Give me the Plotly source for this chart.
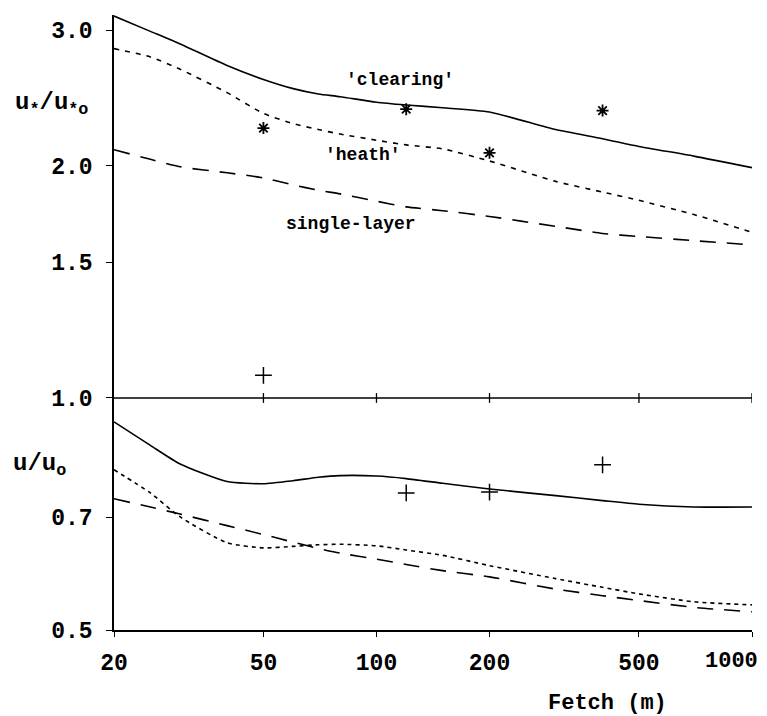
import math
import plotly.graph_objects as go

# ---- data ----
fetch = [20, 25, 30, 40, 50, 60, 70, 80, 100, 120, 150, 200, 300, 400, 500, 700, 1000]

ustar_clearing = [3.13, 2.99, 2.88, 2.70, 2.59, 2.52, 2.48, 2.46, 2.42, 2.40, 2.38,
                  2.35, 2.23, 2.17, 2.12, 2.06, 1.99]
ustar_heath = [2.84, 2.77, 2.67, 2.49, 2.34, 2.27, 2.23, 2.20, 2.16, 2.13, 2.105,
               2.03, 1.91, 1.85, 1.805, 1.73, 1.64]
ustar_single = [2.10, 2.04, 1.995, 1.96, 1.93, 1.89, 1.86, 1.84, 1.80, 1.77, 1.75,
                1.72, 1.67, 1.635, 1.62, 1.60, 1.58]

u_clearing = [0.931, 0.868, 0.821, 0.779, 0.774, 0.781, 0.789, 0.793, 0.792, 0.786,
              0.775, 0.762, 0.747, 0.736, 0.728, 0.722, 0.722]
u_heath = [0.807, 0.753, 0.701, 0.649, 0.639, 0.642, 0.645, 0.646, 0.643, 0.635,
           0.625, 0.606, 0.583, 0.568, 0.557, 0.544, 0.539]
u_single = [0.740, 0.722, 0.707, 0.683, 0.665, 0.650, 0.638, 0.629, 0.618, 0.608,
            0.597, 0.586, 0.565, 0.554, 0.546, 0.535, 0.528]

obs_fetch = [50, 120, 200, 400]
obs_ustar = [2.24, 2.37, 2.08, 2.36]
obs_u = [1.07, 0.753, 0.755, 0.819]

ref_fetch = [20, 1000]
ref_val = [1.0, 1.0]
ref_tick_fetch = [50, 100, 200, 500, 1000]
ref_tick_val = [1.0, 1.0, 1.0, 1.0, 1.0]

x_ticks = [20, 50, 100, 200, 500, 1000]
x_ticktext = ["20", "50", "100", "200", "500", ""]
last_x_tick = (1000, "1000")   # drawn as a label pulled in from the page edge
y_ticks = [0.5, 0.7, 1.0, 1.5, 2.0, 3.0]
y_ticktext = ["0.5", "0.7", "1.0", "1.5", "2.0", "3.0"]

labels = [("'clearing'", 115.5, 2.585), ("'heath'", 92, 2.066), ("single-layer", 85.5, 1.681)]

# ---- figure ----
LW = 1.6
DOT = "5px,6px"
LONG = "16px,11px"
fig = go.Figure()

def line(x, y, dash):
    fig.add_trace(go.Scatter(x=x, y=y, mode="lines",
                             line=dict(color="black", width=LW, dash=dash, shape="spline", smoothing=0.6),
                             showlegend=False, hoverinfo="skip"))

line(fetch, ustar_clearing, "solid")
line(fetch, ustar_heath, DOT)
line(fetch, ustar_single, LONG)
line(fetch, u_clearing, "solid")
line(fetch, u_heath, "4px,4px")
line(fetch, u_single, LONG)

fig.add_trace(go.Scatter(x=ref_fetch, y=ref_val, mode="lines", line=dict(color="black", width=1.5),
                         showlegend=False, hoverinfo="skip"))
fig.add_trace(go.Scatter(x=ref_tick_fetch, y=ref_tick_val, mode="markers",
                         marker=dict(symbol="line-ns-open", size=7, color="black",
                                     line=dict(color="black", width=1.3)),
                         showlegend=False, hoverinfo="skip"))

fig.add_trace(go.Scatter(x=obs_fetch, y=obs_ustar, mode="markers",
                         marker=dict(symbol="asterisk-open", size=10, color="black",
                                     line=dict(color="black", width=1.8)),
                         showlegend=False))
fig.add_trace(go.Scatter(x=obs_fetch, y=obs_u, mode="markers",
                         marker=dict(symbol="cross-thin-open", size=12, color="black",
                                     line=dict(color="black", width=1.5)),
                         showlegend=False))

for text, fx, fy in labels:
    fig.add_annotation(x=math.log10(fx), y=math.log10(fy), xref="x", yref="y", text=f"<b>{text}</b>",
                       showarrow=False, font=dict(family="Liberation Mono", size=18, color="black"))

fig.add_annotation(x=math.log10(last_x_tick[0]), y=-0.052, xref="x", yref="paper",
                   xanchor="center", yanchor="middle", xshift=-21,
                   text=f"<b>{last_x_tick[1]}</b>", showarrow=False,
                   font=dict(family="Liberation Mono", size=22, color="black"))

fig.add_annotation(x=-0.158, y=0.855, xref="paper", yref="paper", xanchor="left", yanchor="middle",
                   text="<b>u<sub>*</sub>/u<sub>*o</sub></b>", showarrow=False,
                   font=dict(family="Liberation Mono", size=24, color="black"))
fig.add_annotation(x=-0.162, y=0.268, xref="paper", yref="paper", xanchor="left", yanchor="middle",
                   text="<b>u/u<sub>o</sub></b>", showarrow=False,
                   font=dict(family="Liberation Mono", size=24, color="black"))
fig.add_annotation(x=0.773, y=-0.119, xref="paper", yref="paper", xanchor="center", yanchor="middle",
                   text="<b>Fetch (m)</b>", showarrow=False,
                   font=dict(family="Liberation Mono", size=22, color="black"))

fig.update_xaxes(type="log", range=[math.log10(20), math.log10(1000)],
                 tickvals=x_ticks, ticktext=x_ticktext, ticks="outside", ticklen=5, tickwidth=1.3,
                 tickcolor="black", showline=True, linecolor="black", linewidth=1.5, showgrid=False,
                 zeroline=False, ticklabelstandoff=6,
                 tickfont=dict(family="Liberation Mono", size=23, color="black", weight="bold"))
fig.update_yaxes(type="log", range=[math.log10(0.5), math.log10(3.14)],
                 tickvals=y_ticks, ticktext=y_ticktext, ticks="outside", ticklen=6, tickwidth=1.3,
                 tickcolor="black", showline=True, linecolor="black", linewidth=1.5, showgrid=False,
                 zeroline=False, ticklabelstandoff=9,
                 tickfont=dict(family="Liberation Mono", size=23, color="black", weight="bold"))

# page body has an 8px margin, so the figure is sized and offset to compensate
fig.update_layout(width=759, height=708, margin=dict(l=106, r=15, t=7, b=86),
                  plot_bgcolor="white", paper_bgcolor="white", showlegend=False)

fig.write_html("out.html")
